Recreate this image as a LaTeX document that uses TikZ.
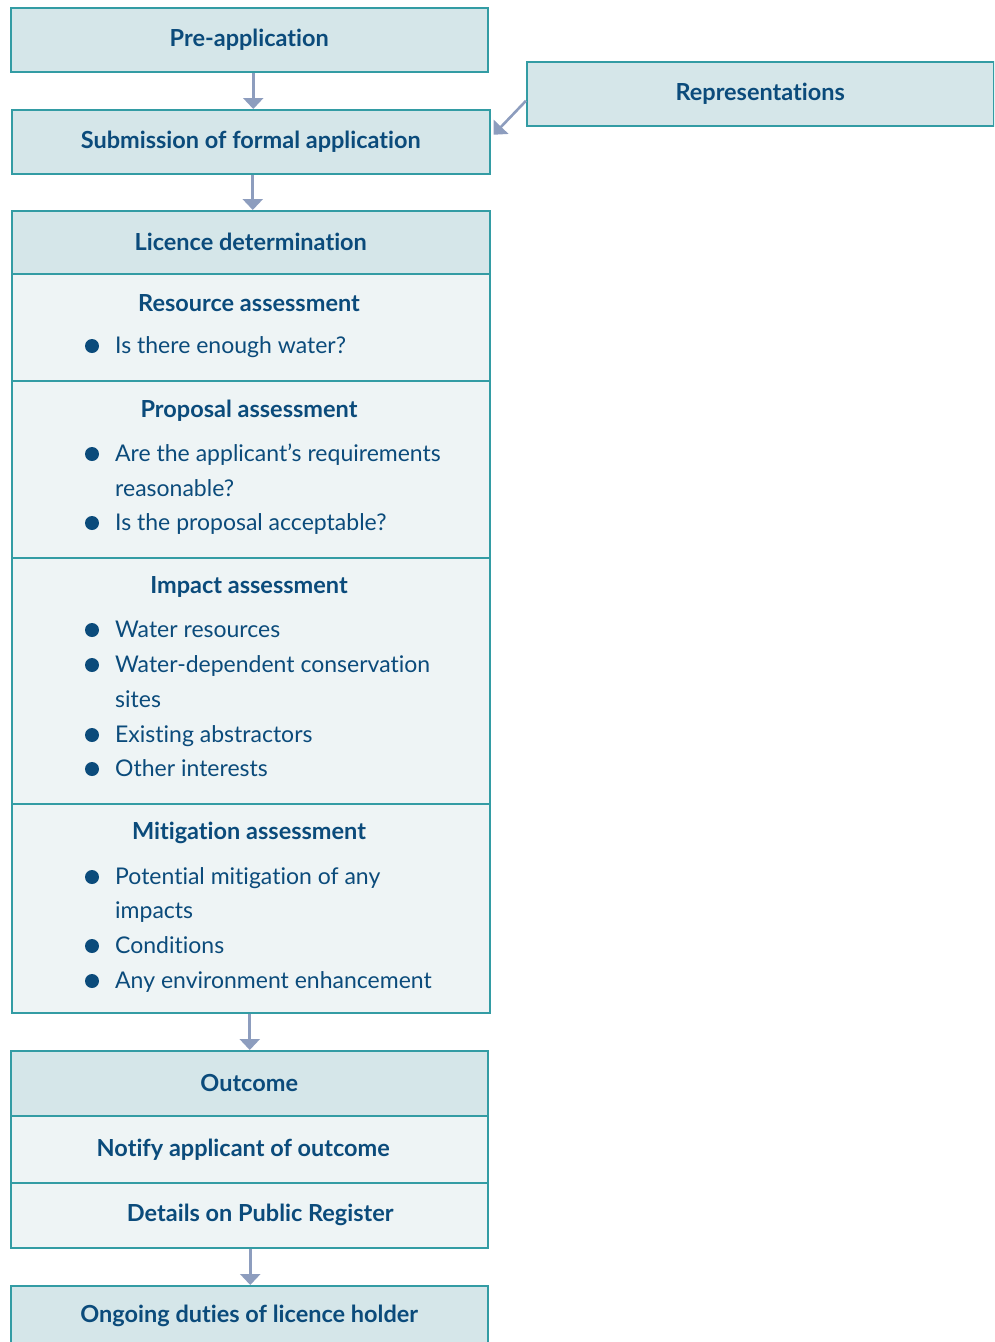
\documentclass[tikz,border=0pt]{standalone}
\usepackage{fontspec}
\setmainfont[Ligatures=NoCommon]{Lato}
\usepackage{tikz}
\usetikzlibrary{shapes,arrows.meta,positioning}
\definecolor{edge}{HTML}{339CA4}
\definecolor{headfill}{HTML}{D5E6E9}
\definecolor{bodyfill}{HTML}{EEF4F5}
\definecolor{ink}{HTML}{0B4B7B}
\definecolor{arrowc}{HTML}{8D9DBE}
\tikzstyle{head} = [draw=edge, fill=headfill, line width=1.5pt, rectangle,
    inner sep=0pt, anchor=north west, minimum width=478pt]
\tikzstyle{body} = [draw=edge, fill=bodyfill, line width=1.5pt, rectangle,
    inner sep=0pt, anchor=north west, minimum width=478pt]
\tikzstyle{title} = [text=ink, font=\bfseries\fontsize{23.5}{28}\selectfont]
\tikzstyle{item} = [text=ink, anchor=west, inner sep=0pt, text height=17pt,
    text depth=5pt, yshift=-2pt, font=\fontsize{23}{28}\selectfont]
\tikzstyle{dot} = [circle, fill=ink, inner sep=0pt, minimum size=14pt, yshift=-1pt]
\tikzstyle{flow} = [draw=arrowc, line width=2.6pt, -{Triangle[width=20pt,length=11pt]}]
\newcommand{\bulletrow}[3]{%
  \node [dot] (#1-dot) at (92,#2) {};
  \node [item] (#1) at (115,#2) {#3};}

\begin{document}
\begin{tikzpicture}[x=1pt, y=-1pt]
    \useasboundingbox (0,0) rectangle (994,1342);
    \clip (0,0) rectangle (994,1342);
    % We start by placing the blocks
    \node [head, title, minimum width=477pt, minimum height=64pt] (pre) at (10,7) {Pre-application};
    \node [head, title, minimum height=64pt] (sub) at (11,109) {Submission of formal application};
    \node [head, title, minimum width=467pt, minimum height=64pt] (rep) at (526,61) {Representations};
    % Licence determination with its four assessments
    \node [head, title, minimum height=63pt] (det) at (11,210) {Licence determination};
    \node [body, minimum height=107pt] (res) at (11,273) {};
    \node [body, minimum height=177pt] (prop) at (11,380) {};
    \node [body, minimum height=246pt] (imp) at (11,557) {};
    \node [body, minimum height=209pt] (mit) at (11,803) {};
    \node [title] (res-t) at (249,303) {Resource assessment};
    \bulletrow{res-1}{345}{Is there enough water?}
    \node [title] (prop-t) at (249,411) {Proposal assessment};
    \bulletrow{prop-1}{453}{Are the applicant’s requirements}
    \node [item] (prop-1b) at (115,488) {reasonable?};
    \bulletrow{prop-2}{522}{Is the proposal acceptable?}
    \node [title] (imp-t) at (249,587) {Impact assessment};
    \bulletrow{imp-1}{629}{Water resources}
    \bulletrow{imp-2}{664}{Water-dependent conservation}
    \node [item] (imp-2b) at (115,699) {sites};
    \bulletrow{imp-3}{734}{Existing abstractors}
    \bulletrow{imp-4}{768}{Other interests}
    \node [title] (mit-t) at (249,833) {Mitigation assessment};
    \bulletrow{mit-1}{876}{Potential mitigation of any}
    \node [item] (mit-1b) at (115,910) {impacts};
    \bulletrow{mit-2}{945}{Conditions}
    \bulletrow{mit-3}{980}{Any environment enhancement}
    % Outcome and what follows
    \node [head, title, minimum width=477pt, minimum height=65pt] (out) at (10,1050) {Outcome};
    \node [body, minimum width=477pt, minimum height=67pt,
        label={[title, xshift=-6pt]center:Notify applicant of outcome}] (notify) at (10,1115) {};
    \node [body, minimum width=477pt, minimum height=65pt,
        label={[title, xshift=11pt]center:Details on Public Register}] (details) at (10,1182) {};
    \node [head, title, minimum width=477pt, minimum height=61pt] (duty) at (10,1285) {Ongoing duties of licence holder};
    % We draw the arrows between the blocks
    \draw [flow] ([xshift=4pt]pre.south) -- ([xshift=4pt]pre.south |- sub.north);
    \draw [flow] ([xshift=2pt]sub.south) -- ([xshift=2pt]sub.south |- det.north);
    \draw [flow] ([yshift=-7pt]rep.west) -- ([xshift=3pt,yshift=7pt]sub.east);
    \draw [flow] ([xshift=-1pt]mit.south) -- ([xshift=-1pt]mit.south |- out.north);
    \draw [flow] ([xshift=1pt]details.south) -- ([xshift=1pt]details.south |- duty.north);
\end{tikzpicture}
\end{document}
